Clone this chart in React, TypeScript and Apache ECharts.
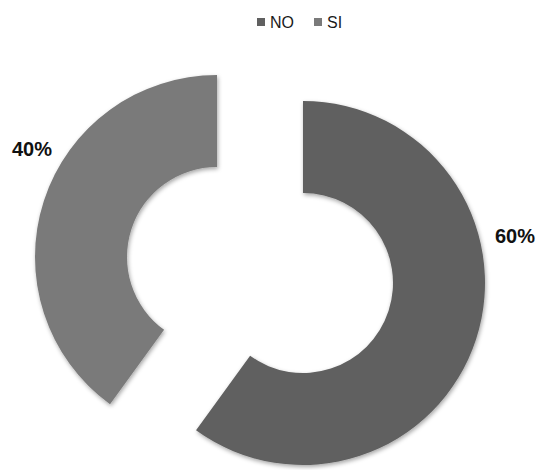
import React, { useEffect, useRef } from "react";
import * as echarts from "echarts";

const categories = ["NO", "SI"];
const values = [60, 40];
const colors = ["#606060", "#7a7a7a"];

// per-slice (exploded) pie centres and label anchors
const sliceCenters = [
  [303, 283],
  [217, 257],
];
const labelPos = [
  [515, 236],
  [32, 149],
];

export default function App() {
  const ref = useRef<HTMLDivElement>(null);
  useEffect(() => {
    if (!ref.current) return;
    const chart = echarts.init(ref.current, null, { renderer: "svg" });
    const series = categories.map((cat, s) => ({
      type: "pie",
      name: cat,
      center: sliceCenters[s],
      radius: [90, 182],
      startAngle: 90,
      clockwise: true,
      avoidLabelOverlap: false,
      silent: true,
      label: {
        show: true,
        position: "outside",
        formatter: "{d}%",
        fontFamily: "Liberation Sans",
        fontWeight: "bold",
        fontSize: 20,
        color: "#111111",
      },
      labelLine: { show: false },
      labelLayout: () => ({
        x: labelPos[s][0],
        y: labelPos[s][1],
        align: "center",
        verticalAlign: "middle",
      }),
      emphasis: { disabled: true },
      data: categories.map((c, i) =>
        i === s
          ? {
              name: c,
              value: values[i],
              itemStyle: {
                color: colors[i],
                shadowBlur: 4,
                shadowOffsetX: 1,
                shadowOffsetY: 2,
                shadowColor: "rgba(0,0,0,0.35)",
              },
            }
          : {
              name: c,
              value: values[i],
              itemStyle: { color: "rgba(0,0,0,0)" },
              label: { show: false },
            }
      ),
    }));
    chart.setOption({
      animation: false,
      backgroundColor: "#ffffff",
      legend: {
        data: categories.map((c, i) => ({ name: c, itemStyle: { color: colors[i] } })),
        left: 252,
        top: 9,
        icon: "rect",
        itemWidth: 8,
        itemHeight: 8,
        itemGap: 20,
        selectedMode: false,
        textStyle: { fontFamily: "Liberation Sans", fontSize: 16, color: "#1a1a1a" },
      },
      series,
    });
    return () => chart.dispose();
  }, []);
  return (
    <div
      ref={ref}
      style={{ position: "fixed", left: 0, top: 0, width: 539, height: 470 }}
    />
  );
}
